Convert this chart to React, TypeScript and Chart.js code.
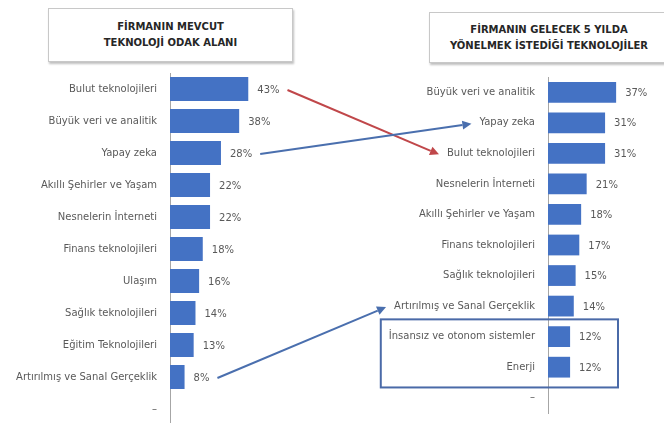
import React, { useEffect, useRef } from "react";
import { Chart, registerables } from "chart.js";

Chart.register(...registerables);

const leftTitle = ["FİRMANIN MEVCUT", "TEKNOLOJİ ODAK ALANI"];
const rightTitle = ["FİRMANIN GELECEK 5 YILDA", "YÖNELMEK İSTEDİĞİ TEKNOLOJİLER"];

const leftCategories = [
  "Bulut teknolojileri",
  "Büyük veri ve analitik",
  "Yapay zeka",
  "Akıllı Şehirler ve Yaşam",
  "Nesnelerin İnterneti",
  "Finans teknolojileri",
  "Ulaşım",
  "Sağlık teknolojileri",
  "Eğitim Teknolojileri",
  "Artırılmış ve Sanal Gerçeklik",
  "–",
];
const leftValues = [43, 38, 28, 22, 22, 18, 16, 14, 13, 8, null];

const rightCategories = [
  "Büyük veri ve analitik",
  "Yapay zeka",
  "Bulut teknolojileri",
  "Nesnelerin İnterneti",
  "Akıllı Şehirler ve Yaşam",
  "Finans teknolojileri",
  "Sağlık teknolojileri",
  "Artırılmış ve Sanal Gerçeklik",
  "İnsansız ve otonom sistemler",
  "Enerji",
  "–",
];
const rightValues = [37, 31, 31, 21, 18, 17, 15, 14, 12, 12, null];

// arrows: [left category, right category, colour]
const arrowLinks: [string, string, string][] = [
  ["Bulut teknolojileri", "Bulut teknolojileri", "#c0474a"],
  ["Yapay zeka", "Yapay zeka", "#4a6fae"],
  ["Artırılmış ve Sanal Gerçeklik", "Artırılmış ve Sanal Gerçeklik", "#4a6fae"],
];
// categories enclosed in a box on the right chart
const boxedRight = ["İnsansız ve otonom sistemler", "Enerji"];

const FONT = "'DejaVu Sans', Arial, sans-serif";
const FONT_SIZE = 10;
const LABEL_FONT = `${FONT_SIZE}px ${FONT}`;
const BAR_COLOR = "#4472c4";
const TEXT_COLOR = "#595959";
const TICK_PAD = 13;

const valueLabels = {
  id: "valueLabels",
  afterDatasetsDraw(chart: any) {
    const ctx = chart.ctx;
    const meta = chart.getDatasetMeta(0);
    const data = chart.data.datasets[0].data;
    ctx.save();
    ctx.font = LABEL_FONT;
    ctx.fillStyle = TEXT_COLOR;
    ctx.textAlign = "left";
    ctx.textBaseline = "middle";
    meta.data.forEach((el: any, i: number) => {
      const v = data[i];
      if (v == null) return;
      ctx.fillText(`${v}%`, el.x + 9, el.y + 1);
    });
    ctx.restore();
  },
};

function makeConfig(categories: string[], values: (number | null)[], yWidth: number, xMax: number, top: number, bottom: number, catPct: number): any {
  return {
    type: "bar",
    data: {
      labels: categories,
      datasets: [
        {
          data: values,
          backgroundColor: BAR_COLOR,
          borderWidth: 0,
          barPercentage: 1,
          categoryPercentage: catPct,
        },
      ],
    },
    options: {
      indexAxis: "y",
      animation: false,
      responsive: false,
      maintainAspectRatio: false,
      devicePixelRatio: 1,
      layout: { padding: { top, bottom, left: 0, right: 0 } },
      plugins: { legend: { display: false }, tooltip: { enabled: false }, title: { display: false } },
      scales: {
        x: { display: false, min: 0, max: xMax },
        y: {
          afterFit(scale: any) {
            scale.width = yWidth;
          },
          grid: { display: false, drawTicks: false },
          border: { display: true, color: "#a6a6a6", width: 1 },
          ticks: { color: TEXT_COLOR, font: { family: FONT, size: FONT_SIZE }, padding: TICK_PAD, autoSkip: false },
        },
      },
    },
    plugins: [valueLabels],
  };
}

function labelLeftX(chart: any, text: string) {
  const ctx = chart.ctx;
  ctx.save();
  ctx.font = LABEL_FONT;
  const w = ctx.measureText(text).width;
  ctx.restore();
  const scale = chart.scales.y;
  return scale.right - TICK_PAD - w;
}

function valueRightX(chart: any, idx: number) {
  const ctx = chart.ctx;
  const el = chart.getDatasetMeta(0).data[idx];
  const v = chart.data.datasets[0].data[idx];
  ctx.save();
  ctx.font = LABEL_FONT;
  const w = ctx.measureText(`${v}%`).width;
  ctx.restore();
  return { x: el.x + 9 + w, y: el.y };
}

function drawArrow(ctx: CanvasRenderingContext2D, x1: number, y1: number, x2: number, y2: number, color: string) {
  const ang = Math.atan2(y2 - y1, x2 - x1);
  const head = 9;
  const hw = 4.5;
  const bx = x2 - head * Math.cos(ang);
  const by = y2 - head * Math.sin(ang);
  ctx.save();
  ctx.strokeStyle = color;
  ctx.fillStyle = color;
  ctx.lineWidth = 2;
  ctx.beginPath();
  ctx.moveTo(x1, y1);
  ctx.lineTo(bx, by);
  ctx.stroke();
  ctx.beginPath();
  ctx.moveTo(x2, y2);
  ctx.lineTo(bx + hw * Math.sin(ang), by - hw * Math.cos(ang));
  ctx.lineTo(bx - hw * Math.sin(ang), by + hw * Math.cos(ang));
  ctx.closePath();
  ctx.fill();
  ctx.restore();
}

const titleStyle = (left: number, top: number, width: number, height: number): React.CSSProperties => ({
  position: "absolute",
  left,
  top,
  width,
  height,
  boxSizing: "border-box",
  border: "1px solid #c8c8c8",
  boxShadow: "1px 2px 2px rgba(0,0,0,0.25)",
  background: "#fff",
  display: "flex",
  flexDirection: "column",
  justifyContent: "center",
  alignItems: "center",
  fontFamily: FONT,
  fontWeight: "bold",
  fontSize: 10,
  lineHeight: "16px",
  color: "#262626",
  textAlign: "center",
  whiteSpace: "nowrap",
});

const CANVAS_H = 450;

export default function App() {
  const leftRef = useRef<HTMLCanvasElement>(null);
  const rightRef = useRef<HTMLCanvasElement>(null);
  const overlayRef = useRef<HTMLCanvasElement>(null);

  useEffect(() => {
    document.body.style.margin = "0";
    const left = new Chart(leftRef.current!, makeConfig(leftCategories, leftValues, 170, 89, 73, CANVAS_H - 425, 0.75));
    const right = new Chart(rightRef.current!, makeConfig(rightCategories, rightValues, 216, 63, 77, CANVAS_H - 413, 0.68));

    const ov = overlayRef.current!;
    const ctx = ov.getContext("2d")!;
    ctx.clearRect(0, 0, ov.width, ov.height);
    const offsetRight = 332;

    // box around selected right categories
    const rMeta = right.getDatasetMeta(0);
    const idxs = boxedRight.map((c) => rightCategories.indexOf(c));
    const firstEl: any = rMeta.data[idxs[0]];
    const lastEl: any = rMeta.data[idxs[idxs.length - 1]];
    const slot = right.scales.y.height / rightCategories.length;
    const bx1 = offsetRight + labelLeftX(right, boxedRight[0]) - 8;
    const bx2 = offsetRight + right.chartArea.left + 70;
    const by1 = firstEl.y - slot / 2 - 2;
    const by2 = lastEl.y + slot / 2 + 5;
    ctx.save();
    ctx.strokeStyle = "#4a6aa8";
    ctx.lineWidth = 2;
    ctx.strokeRect(bx1, by1, bx2 - bx1, by2 - by1);
    ctx.restore();

    arrowLinks.forEach(([lc, rc, color]) => {
      const li = leftCategories.indexOf(lc);
      const ri = rightCategories.indexOf(rc);
      const s = valueRightX(left, li);
      const rEl: any = rMeta.data[ri];
      const ex = offsetRight + labelLeftX(right, rc) - 8;
      drawArrow(ctx, s.x + 8, s.y + 1, ex, rEl.y + 1, color);
    });

    return () => {
      left.destroy();
      right.destroy();
    };
  }, []);

  return (
    <div style={{ position: "relative", width: 664, height: 423, overflow: "hidden", background: "#fff" }}>
      <div style={titleStyle(48, 8, 245, 54)}>
        {leftTitle.map((t) => (
          <div key={t}>{t}</div>
        ))}
      </div>
      <div style={titleStyle(429, 12, 240, 51)}>
        {rightTitle.map((t) => (
          <div key={t}>{t}</div>
        ))}
      </div>
      <canvas ref={leftRef} width={332} height={CANVAS_H} style={{ position: "absolute", left: 0, top: 0, width: 332, height: CANVAS_H }} />
      <canvas ref={rightRef} width={332} height={CANVAS_H} style={{ position: "absolute", left: 332, top: 0, width: 332, height: CANVAS_H }} />
      <canvas ref={overlayRef} width={664} height={423} style={{ position: "absolute", left: 0, top: 0, width: 664, height: 423, pointerEvents: "none" }} />
    </div>
  );
}
